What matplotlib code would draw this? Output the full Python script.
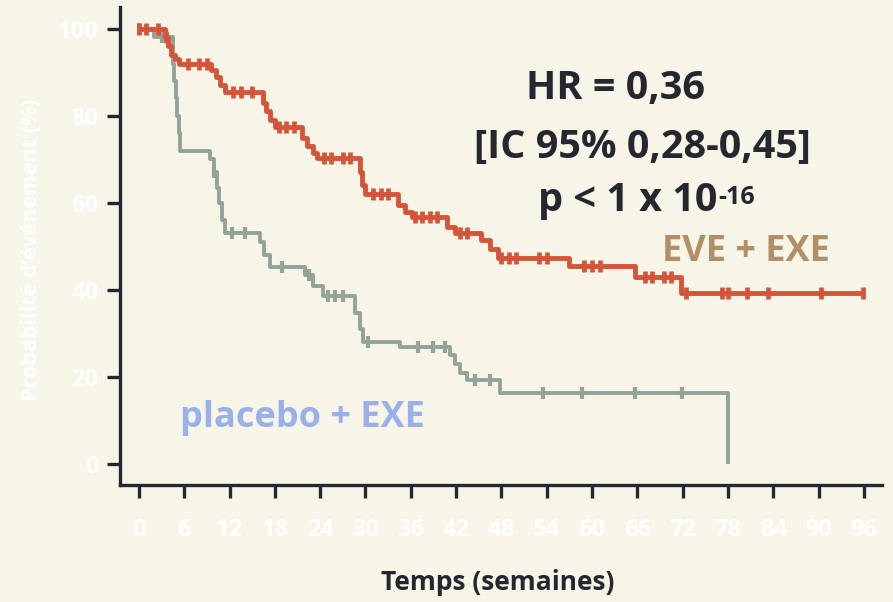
import numpy as np
import matplotlib
matplotlib.use("Agg")
import matplotlib.pyplot as plt

plt.rcParams['font.family'] = ['Open Sans', 'DejaVu Sans']

# courbe EVE + EXE (semaines, %)
eve_t = [0, 3.4, 3.9, 4.3, 4.8, 5.3, 9.6, 10.2, 10.8, 11.4, 16.4, 16.8, 17.3, 18.0,
         21.6, 22.3, 23.0, 23.6, 29.3, 29.6, 29.9, 34.3, 35.2, 36.1, 40.8, 41.9,
         45.3, 46.5, 47.6, 57.0, 65.7, 71.8, 96]
eve_s = [100, 98, 96, 94, 93, 92, 90.5, 89, 87, 85.5, 83, 81, 79, 77.5,
         75, 73, 71.5, 70.3, 67, 64, 62, 59.5, 58, 56.8, 54.5, 53,
         51.5, 49.5, 47.4, 45.5, 43, 39.3, 39.3]
eve_cens = [0, 1, 2.5, 3.6, 6.5, 8, 9, 12.5, 13.5, 15, 18.5, 19.5, 20.5, 24.5, 25.5,
            27, 28, 31, 32, 33, 36.5, 37.5, 38.5, 39.5, 42.5, 43.5, 48, 49, 50, 53,
            54, 59, 60, 61, 67, 68, 69.5, 70.5, 72.5, 77.2, 78, 80.5, 83.3, 90.3, 95.9]

# courbe placebo + EXE
pla_t = [0, 2.0, 4.5, 4.7, 4.9, 5.1, 5.3, 5.5, 9.4, 10.0, 10.3, 10.6, 11.0, 11.4,
         16.0, 16.6, 17.3, 22.0, 23.0, 24.4, 28.6, 29.3, 29.7, 34.6, 41.2, 41.8,
         42.5, 43.4, 47.8, 78, 78]
pla_s = [100, 98, 92, 88, 84, 80, 76, 72, 70, 67, 63.5, 60, 56, 53,
         51, 48, 45.3, 43.5, 41, 38.5, 34.7, 31, 28, 27, 25, 23,
         21, 19.3, 16.3, 0, 0]
pla_cens = [0, 3, 10, 12.3, 14, 19, 22.5, 25, 26, 27, 30.3, 37, 39, 40.5, 44.5, 46.5,
            53.5, 58.7, 65.7, 71.9]

x_ticks = list(range(0, 97, 6))
y_ticks = [0, 20, 40, 60, 80, 100]

BG = '#f7f5e8'
DARK = '#262630'
RED = '#d4553a'
GREY = '#93a399'


def surv_at(t, s, times):
    t = np.asarray(t)
    idx = np.searchsorted(t, times, side='right') - 1
    return np.asarray(s)[idx]


fig = plt.figure(figsize=(8.93, 6.02), dpi=100, facecolor=BG)
ax = fig.add_axes([120 / 893, 117 / 602, 762 / 893, 478 / 602])
ax.set_facecolor(BG)

ax.step(pla_t, pla_s, where='post', color=GREY, lw=2.8, solid_capstyle='butt', zorder=2)
ax.plot(pla_cens, surv_at(pla_t, pla_s, pla_cens), '|', color=GREY, ms=8, mew=3, zorder=2)
ax.step(eve_t, eve_s, where='post', color=RED, lw=3.5, solid_capstyle='butt', zorder=3)
ax.plot(eve_cens, surv_at(eve_t, eve_s, eve_cens), '|', color=RED, ms=9, mew=3.4, zorder=3)

ax.set_xlim(-2.5, 98.4)
ax.set_ylim(-4.8, 105)
ax.set_xticks(x_ticks)
ax.set_yticks(y_ticks)
for side in ['top', 'right']:
    ax.spines[side].set_visible(False)
for side in ['left', 'bottom']:
    ax.spines[side].set_color(DARK)
    ax.spines[side].set_linewidth(2.4)
ax.tick_params(axis='both', color=DARK, width=2.4, length=9.5, labelcolor='white',
               labelsize=17)
ax.tick_params(axis='x', pad=14)
ax.tick_params(axis='y', pad=6)
for lab in ax.get_xticklabels() + ax.get_yticklabels():
    lab.set_fontweight('bold')

fig.text(32 / 893, 1 - 250 / 602, "Probabilité d’événement (%)", rotation=90,
         color='white', fontsize=15.5, fontweight='bold', ha='center', va='center')
fig.text(498 / 893, 1 - 583 / 602, "Temps (semaines)", color=DARK, fontsize=19,
         fontweight='bold', ha='center', va='center')

fig.text(615 / 893, 1 - 88 / 602, "HR = 0,36", color=DARK, fontsize=28.5,
         fontweight='bold', ha='center', va='center')
fig.text(642 / 893, 1 - 147 / 602, "[IC 95% 0,28-0,45]", color=DARK, fontsize=28.5,
         fontweight='bold', ha='center', va='center')
ptxt = fig.text(628 / 893, 1 - 201 / 602, "p < 1 x 10", color=DARK, fontsize=28.5,
                fontweight='bold', ha='center', va='center')
fig.canvas.draw()
bb = ptxt.get_window_extent()
fig.text((bb.x1 + 1) / 893, (bb.y1 - 4) / 602, "-16", color=DARK, fontsize=18,
         fontweight='bold', ha='left', va='top')
fig.text(746 / 893, 1 - 252 / 602, "EVE + EXE", color='#b09068', fontsize=26,
         fontweight='bold', ha='center', va='center')
fig.text(302 / 893, 1 - 418 / 602, "placebo + EXE", color='#9ab0ea', fontsize=26,
         fontweight='bold', ha='center', va='center')

fig.savefig('out.png', dpi=100, facecolor=BG)
